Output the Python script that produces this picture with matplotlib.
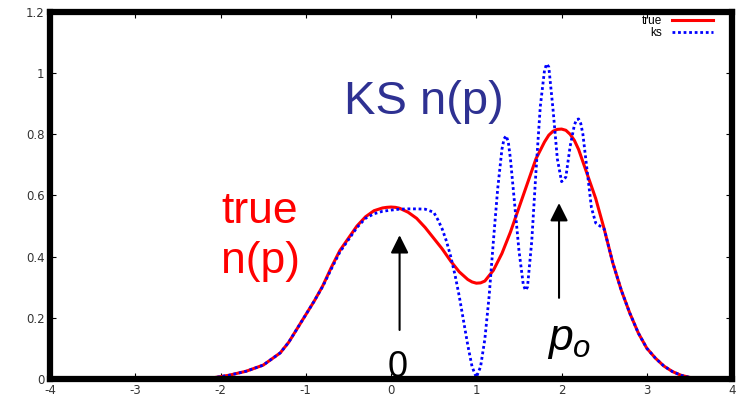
import matplotlib
matplotlib.use("Agg")
import matplotlib.pyplot as plt

plt.rcParams["font.family"] = ["Liberation Sans", "DejaVu Sans"]
plt.rcParams["mathtext.fontset"] = "custom"
plt.rcParams["mathtext.it"] = "Liberation Sans:italic"
plt.rcParams["mathtext.rm"] = "Liberation Sans"

# true momentum distribution n(p)
true_p = [-2.3, -2.1, -1.9, -1.7, -1.5, -1.3, -1.2, -1.1, -1.0, -0.9, -0.8,
          -0.7, -0.6, -0.5, -0.4, -0.3, -0.2, -0.1, -0.05, 0.0, 0.05, 0.1, 0.2,
          0.3, 0.4, 0.5, 0.6, 0.7, 0.8, 0.9, 0.95, 1.0, 1.05, 1.1, 1.2, 1.3,
          1.4, 1.5, 1.6, 1.7, 1.8, 1.85, 1.9, 1.95, 2.0, 2.05, 2.1, 2.15, 2.2,
          2.3, 2.4, 2.5, 2.6, 2.7, 2.8, 2.9, 3.0, 3.1, 3.2, 3.3, 3.4, 3.5, 3.6]
true_n = [0.0, 0.003, 0.012, 0.025, 0.045, 0.085, 0.12, 0.165, 0.21, 0.255,
          0.305, 0.365, 0.42, 0.46, 0.5, 0.53, 0.55, 0.559, 0.561, 0.562, 0.561,
          0.558, 0.545, 0.525, 0.495, 0.46, 0.425, 0.385, 0.35, 0.325, 0.317,
          0.313, 0.314, 0.32, 0.355, 0.41, 0.48, 0.56, 0.64, 0.72, 0.775, 0.797,
          0.81, 0.816, 0.817, 0.813, 0.8, 0.78, 0.75, 0.67, 0.59, 0.49, 0.38,
          0.29, 0.215, 0.15, 0.1, 0.068, 0.042, 0.024, 0.012, 0.005, 0.0]

# Kohn-Sham n(p)
ks_p = [-2.3, -2.1, -1.9, -1.7, -1.5, -1.3, -1.2, -1.1, -1.0, -0.9, -0.8, -0.7,
        -0.6, -0.5, -0.4, -0.3, -0.2, -0.1, 0.0, 0.1, 0.2, 0.3, 0.4, 0.5, 0.55,
        0.6, 0.65, 0.7, 0.75, 0.8, 0.85, 0.9, 0.95, 1.0, 1.05, 1.1, 1.15, 1.2,
        1.25, 1.3, 1.325, 1.35, 1.375, 1.4, 1.45, 1.5, 1.55, 1.575, 1.6, 1.65,
        1.7, 1.75, 1.8, 1.825, 1.85, 1.9, 1.95, 2.0, 2.05, 2.1, 2.15, 2.175,
        2.2, 2.225, 2.25, 2.3, 2.35, 2.4, 2.5, 2.6, 2.7, 2.8, 2.9, 3.0, 3.1,
        3.2, 3.3, 3.4, 3.5, 3.6]
ks_n = [0.0, 0.003, 0.012, 0.025, 0.045, 0.085, 0.12, 0.165, 0.21, 0.255,
        0.303, 0.36, 0.415, 0.455, 0.495, 0.525, 0.54, 0.548, 0.552, 0.555,
        0.556, 0.556, 0.555, 0.545, 0.52, 0.49, 0.45, 0.4, 0.34, 0.27, 0.19,
        0.11, 0.04, 0.005, 0.04, 0.13, 0.27, 0.45, 0.62, 0.75, 0.785, 0.795,
        0.775, 0.72, 0.57, 0.42, 0.31, 0.29, 0.3, 0.45, 0.68, 0.89, 1.01, 1.03,
        1.02, 0.88, 0.72, 0.645, 0.66, 0.76, 0.83, 0.848, 0.85, 0.835, 0.8,
        0.68, 0.56, 0.51, 0.49, 0.38, 0.29, 0.215, 0.15, 0.1, 0.068, 0.042,
        0.024, 0.012, 0.005, 0.0]

x_ticks = [-4, -3, -2, -1, 0, 1, 2, 3, 4]
y_ticks = [0, 0.2, 0.4, 0.6, 0.8, 1.0, 1.2]
y_labels = ["0", "0.2", "0.4", "0.6", "0.8", "1", "1.2"]

fig = plt.figure(figsize=(7.41, 3.98), dpi=100)
ax = fig.add_axes([0.0675, 0.048, 0.9205, 0.922])

ax.plot(true_p, true_n, color="#ff0000", lw=2.2, label="true", zorder=3)
ax.plot(ks_p, ks_n, color="#0000ff", lw=2.0, linestyle=(0, (1, 1)),
        label="ks", zorder=4)

ax.set_xlim(-4, 4)
ax.set_ylim(0, 1.2)
ax.set_xticks(x_ticks)
ax.set_xticklabels([str(t) for t in x_ticks])
ax.set_yticks(y_ticks)
ax.set_yticklabels(y_labels)
ax.tick_params(direction="in", length=4, width=0.8, top=True, right=True,
               labelsize=8.5, labelcolor="#333333", pad=4)
for lab in ax.get_xticklabels() + ax.get_yticklabels():
    lab.set_family("DejaVu Sans")
for sp in ax.spines.values():
    sp.set_linewidth(4.5)
    sp.set_zorder(5)

ax.legend(loc="upper right", bbox_to_anchor=(0.979, 1.005), frameon=False,
          markerfirst=False, fontsize=8.5, handlelength=3.5,
          handletextpad=0.8, labelspacing=0.0, borderaxespad=0.0)

# annotations
ax.text(-0.55, 0.866, "KS n(p)", color="#2e3192", fontsize=34, va="baseline")
ax.text(-1.99, 0.51, "true", color="#ff0000", fontsize=32, va="baseline")
ax.text(-1.99, 0.346, "n(p)", color="#ff0000", fontsize=32, va="baseline")
ax.text(0.08, 0.006, "0", color="black", fontsize=26, ha="center", va="baseline")
ax.text(1.83, 0.095, r"$p_o$", color="black", fontsize=32, va="baseline")

arrow = dict(arrowstyle="-|>,head_length=0.4,head_width=0.2", lw=1.5,
             color="black", mutation_scale=27, shrinkA=0, shrinkB=0)
ax.annotate("", xy=(0.1, 0.47), xytext=(0.1, 0.16), arrowprops=arrow)
ax.annotate("", xy=(1.97, 0.575), xytext=(1.97, 0.265), arrowprops=arrow)

fig.savefig("out.png", dpi=100)
